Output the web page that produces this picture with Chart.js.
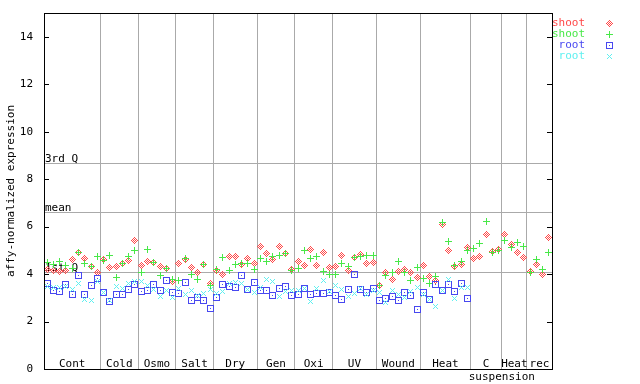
<!DOCTYPE html>
<html>
<head>
<meta charset="utf-8">
<script src="https://cdn.jsdelivr.net/npm/chart.js@4.4.1/dist/chart.umd.min.js"></script>
<style>
  html, body { margin: 0; padding: 0; background: #fff; }
</style>
</head>
<body>
<canvas id="chart" width="640" height="384"></canvas>
<script>
// experiment groups along the x axis (number of samples in each)
const groupNames = ['Cont', 'Cold', 'Osmo', 'Salt', 'Dry', 'Gen', 'Oxi', 'UV', 'Wound', 'Heat', 'C', 'Heat', 'rec'];
const groupSizes = [9, 6, 6, 6, 7, 6, 6, 7, 7, 8, 5, 4, 4];
const yTicks = [0, 2, 4, 6, 8, 10, 12, 14];

// quartile / mean reference lines
const refNames = ['3rd Q', 'mean', '1st Q'];
const refValues = [8.67, 6.61, 4.08];

const seriesNames = ['shoot', 'shoot', 'root', 'root'];

const shootA = [
    4.20, 4.17, 4.11, 4.14, 4.62, 4.91, 4.67, 4.31, 4.07,
    4.62, 4.29, 4.32, 4.45, 4.56, 5.42,
    4.37, 4.53, 4.49, 4.32, 4.24, 3.69,
    4.45, 4.62, 4.28, 4.08, 4.40, 3.61,
    4.17, 4.00, 4.76, 4.76, 4.39, 4.66, 4.45,
    5.17, 4.87, 4.63, 5.17, 4.85, 4.20,
    4.53, 4.34, 5.04, 4.38, 4.91, 4.28,
    4.31, 4.79, 4.14, 4.70, 4.84, 4.45, 4.49,
    3.52, 4.08, 3.78, 4.11, 4.20, 4.08, 3.86,
    4.37, 3.90, 3.73, 6.08, 5.00, 4.32, 4.41, 5.12,
    4.66, 4.75, 5.67, 4.96, 5.04,
    5.67, 5.26, 4.91, 4.70,
    4.11, 4.41, 3.99, 5.55
];
const shootB = [
    4.47, 4.42, 4.55, 4.37, 4.24, 4.91, 4.45, 4.32, 4.72,
    4.58, 4.79, 3.86, 4.45, 4.76, 5.01,
    4.05, 5.04, 4.48, 3.92, 4.22, 3.78,
    3.75, 4.65, 3.97, 3.78, 4.42, 3.52,
    4.20, 4.70, 4.17, 4.42, 4.45, 4.45, 4.20,
    4.66, 4.53, 4.73, 4.79, 4.87, 4.17,
    4.24, 5.00, 4.67, 4.76, 4.11, 4.00,
    4.00, 4.45, 4.30, 4.70, 4.76, 4.80, 4.78,
    3.52, 3.92, 4.08, 4.51, 4.05, 3.75, 4.28,
    3.83, 3.61, 3.89, 6.16, 5.38, 4.37, 4.51, 4.98,
    5.08, 5.29, 6.23, 4.91, 5.00,
    5.42, 5.12, 5.33, 5.17,
    4.07, 4.62, 4.20, 4.91
];
const rootA = [
    3.61, 3.31, 3.28, 3.57, 3.15, 3.95, 3.15, 3.52, 3.82,
    3.23, 2.86, 3.16, 3.16, 3.36, 3.57,
    3.28, 3.31, 3.57, 3.31, 3.73, 3.23,
    3.20, 3.65, 2.89, 3.02, 2.89, 2.56,
    3.02, 3.57, 3.48, 3.45, 3.95, 3.36, 3.66,
    3.30, 3.31, 3.10, 3.40, 3.48, 3.10,
    3.15, 3.41, 3.15, 3.19, 3.19, 3.21,
    3.10, 2.93, 3.36, 3.97, 3.36, 3.21, 3.40,
    2.89, 2.98, 3.06, 2.89, 3.23, 3.10, 2.51,
    3.23, 2.93, 3.57, 3.31, 3.57, 3.27, 3.61, 2.98
];
const rootB = [
    3.47, 3.44, 3.44, 3.49, 3.33, 3.61, 2.93, 2.89, 3.67,
    3.24, 2.90, 3.47, 3.40, 3.61, 3.69,
    3.69, 3.52, 3.36, 3.07, 3.30, 3.02,
    3.41, 3.16, 3.30, 3.10, 3.20, 3.35,
    3.19, 3.27, 3.60, 3.65, 3.60, 3.33, 3.24,
    3.45, 3.78, 3.69, 3.05, 3.27, 3.30,
    3.30, 3.38, 2.85, 3.41, 3.73, 3.27,
    3.52, 3.36, 3.05, 3.19, 3.40, 3.16, 3.30,
    3.23, 2.79, 3.31, 3.13, 3.02, 3.25, 3.44,
    3.15, 2.93, 2.64, 3.31, 3.78, 2.98, 3.44, 3.44
];

const FONT_FAMILY = '"DejaVu Sans Mono", monospace';
const FONT = '11px ' + FONT_FAMILY;
const GRID = '#aaaaaa';

// cumulative group boundaries
const bounds = [];
let acc = 0;
groupSizes.forEach(n => { acc += n; bounds.push(acc); });
const total = acc;

function toPoints(vals) {
    return vals.map((v, i) => ({ x: i + 0.5, y: v }));
}

// small pixel markers, drawn cell by cell
function makeMarker(size, color, on) {
    const c = document.createElement('canvas');
    c.width = size;
    c.height = size;
    const g = c.getContext('2d');
    g.fillStyle = color;
    for (let py = 0; py < size; py++) {
        for (let px = 0; px < size; px++) {
            if (on(px, py)) g.fillRect(px, py, 1, 1);
        }
    }
    return c;
}

const colors = ['#ff4848', '#48e848', '#4848f0', '#60f0f0'];
const markers = [
    makeMarker(7, colors[0], (x, y) => {
        const d = Math.abs(x - 3) + Math.abs(y - 3);
        return d <= 3 && d % 2 === 1;
    }),
    makeMarker(7, colors[1], (x, y) => x === 3 || y === 3),
    makeMarker(7, colors[2], (x, y) => x === 0 || y === 0 || x === 6 || y === 6 || (x === 3 && y === 3)),
    makeMarker(5, colors[3], (x, y) => x === y || x + y === 4)
];

const allSeries = [shootA, shootB, rootA, rootB];

const decor = {
    id: 'decor',
    beforeDatasetsDraw(chart) {
        const { ctx, chartArea: a, scales: { x, y } } = chart;
        ctx.save();
        ctx.font = FONT;
        ctx.lineWidth = 1;
        ctx.strokeStyle = GRID;
        refValues.forEach((v, k) => {
            const py = Math.round(y.getPixelForValue(v)) + 0.5;
            ctx.beginPath();
            ctx.moveTo(a.left, py);
            ctx.lineTo(a.right, py);
            ctx.stroke();
            ctx.fillStyle = '#000';
            ctx.textAlign = 'left';
            ctx.textBaseline = 'bottom';
            ctx.fillText(refNames[k], a.left + 1, py + 1);
        });

        // group labels inside the bottom of the plot
        ctx.textAlign = 'center';
        ctx.textBaseline = 'middle';
        ctx.fillStyle = '#000';
        let start = 0;
        groupNames.forEach((name, k) => {
            const cx = x.getPixelForValue(start + groupSizes[k] / 2);
            ctx.fillText(name, cx, a.bottom - 5);
            start += groupSizes[k];
        });
        ctx.fillText('suspension', x.getPixelForValue(bounds[10]), a.bottom + 8);

        // y tick labels
        ctx.textAlign = 'right';
        yTicks.forEach(v => {
            ctx.fillText(String(v), a.left - 11, y.getPixelForValue(v));
        });

        // y axis title
        ctx.translate(11, (a.top + a.bottom) / 2);
        ctx.rotate(-Math.PI / 2);
        ctx.textAlign = 'center';
        ctx.fillText('affy-normalized expression', 0, 0);
        ctx.restore();
        ctx.imageSmoothingEnabled = false;
    },
    afterDraw(chart) {
        const { ctx, chartArea: a, scales: { y } } = chart;
        ctx.save();
        ctx.strokeStyle = '#000';
        ctx.lineWidth = 1;
        ctx.strokeRect(a.left + 0.5, a.top + 0.5, a.right - a.left, a.bottom - a.top);
        ctx.beginPath();
        yTicks.forEach(v => {
            const py = Math.round(y.getPixelForValue(v)) + 0.5;
            ctx.moveTo(a.left, py);
            ctx.lineTo(a.left + 5, py);
            ctx.moveTo(a.right - 5, py);
            ctx.lineTo(a.right + 1, py);
        });
        ctx.stroke();

        // legend
        ctx.font = FONT;
        ctx.textAlign = 'right';
        ctx.textBaseline = 'middle';
        ctx.imageSmoothingEnabled = false;
        seriesNames.forEach((name, k) => {
            const ly = 23.5 + k * 11;
            ctx.fillStyle = colors[k];
            ctx.fillText(name, 585, ly);
            const m = markers[k];
            ctx.drawImage(m, Math.round(609 - m.width / 2), Math.round(ly - m.height / 2));
        });
        ctx.restore();
    }
};

new Chart(document.getElementById('chart'), {
    type: 'scatter',
    data: {
        datasets: allSeries.map((vals, k) => ({
            label: seriesNames[k],
            data: toPoints(vals),
            pointStyle: markers[k],
            pointRadius: 3,
            order: 4 - k
        }))
    },
    options: {
        responsive: false,
        animation: false,
        devicePixelRatio: 1,
        layout: { padding: { left: 44, top: 13, right: 88, bottom: 0 } },
        plugins: { legend: { display: false }, tooltip: { enabled: false } },
        scales: {
            x: {
                type: 'linear',
                min: 0,
                max: total,
                afterBuildTicks: s => { s.ticks = bounds.slice(0, -1).map(v => ({ value: v })); },
                afterFit: s => { s.height = 15; },
                ticks: { display: false },
                grid: { color: GRID, drawTicks: false, lineWidth: 1 },
                border: { display: false }
            },
            y: {
                min: 0,
                max: 15,
                afterBuildTicks: s => { s.ticks = yTicks.map(v => ({ value: v })); },
                afterFit: s => { s.width = 0; },
                ticks: { display: false },
                grid: { display: false, drawTicks: false },
                border: { display: false }
            }
        }
    },
    plugins: [decor]
});
</script>
</body>
</html>
